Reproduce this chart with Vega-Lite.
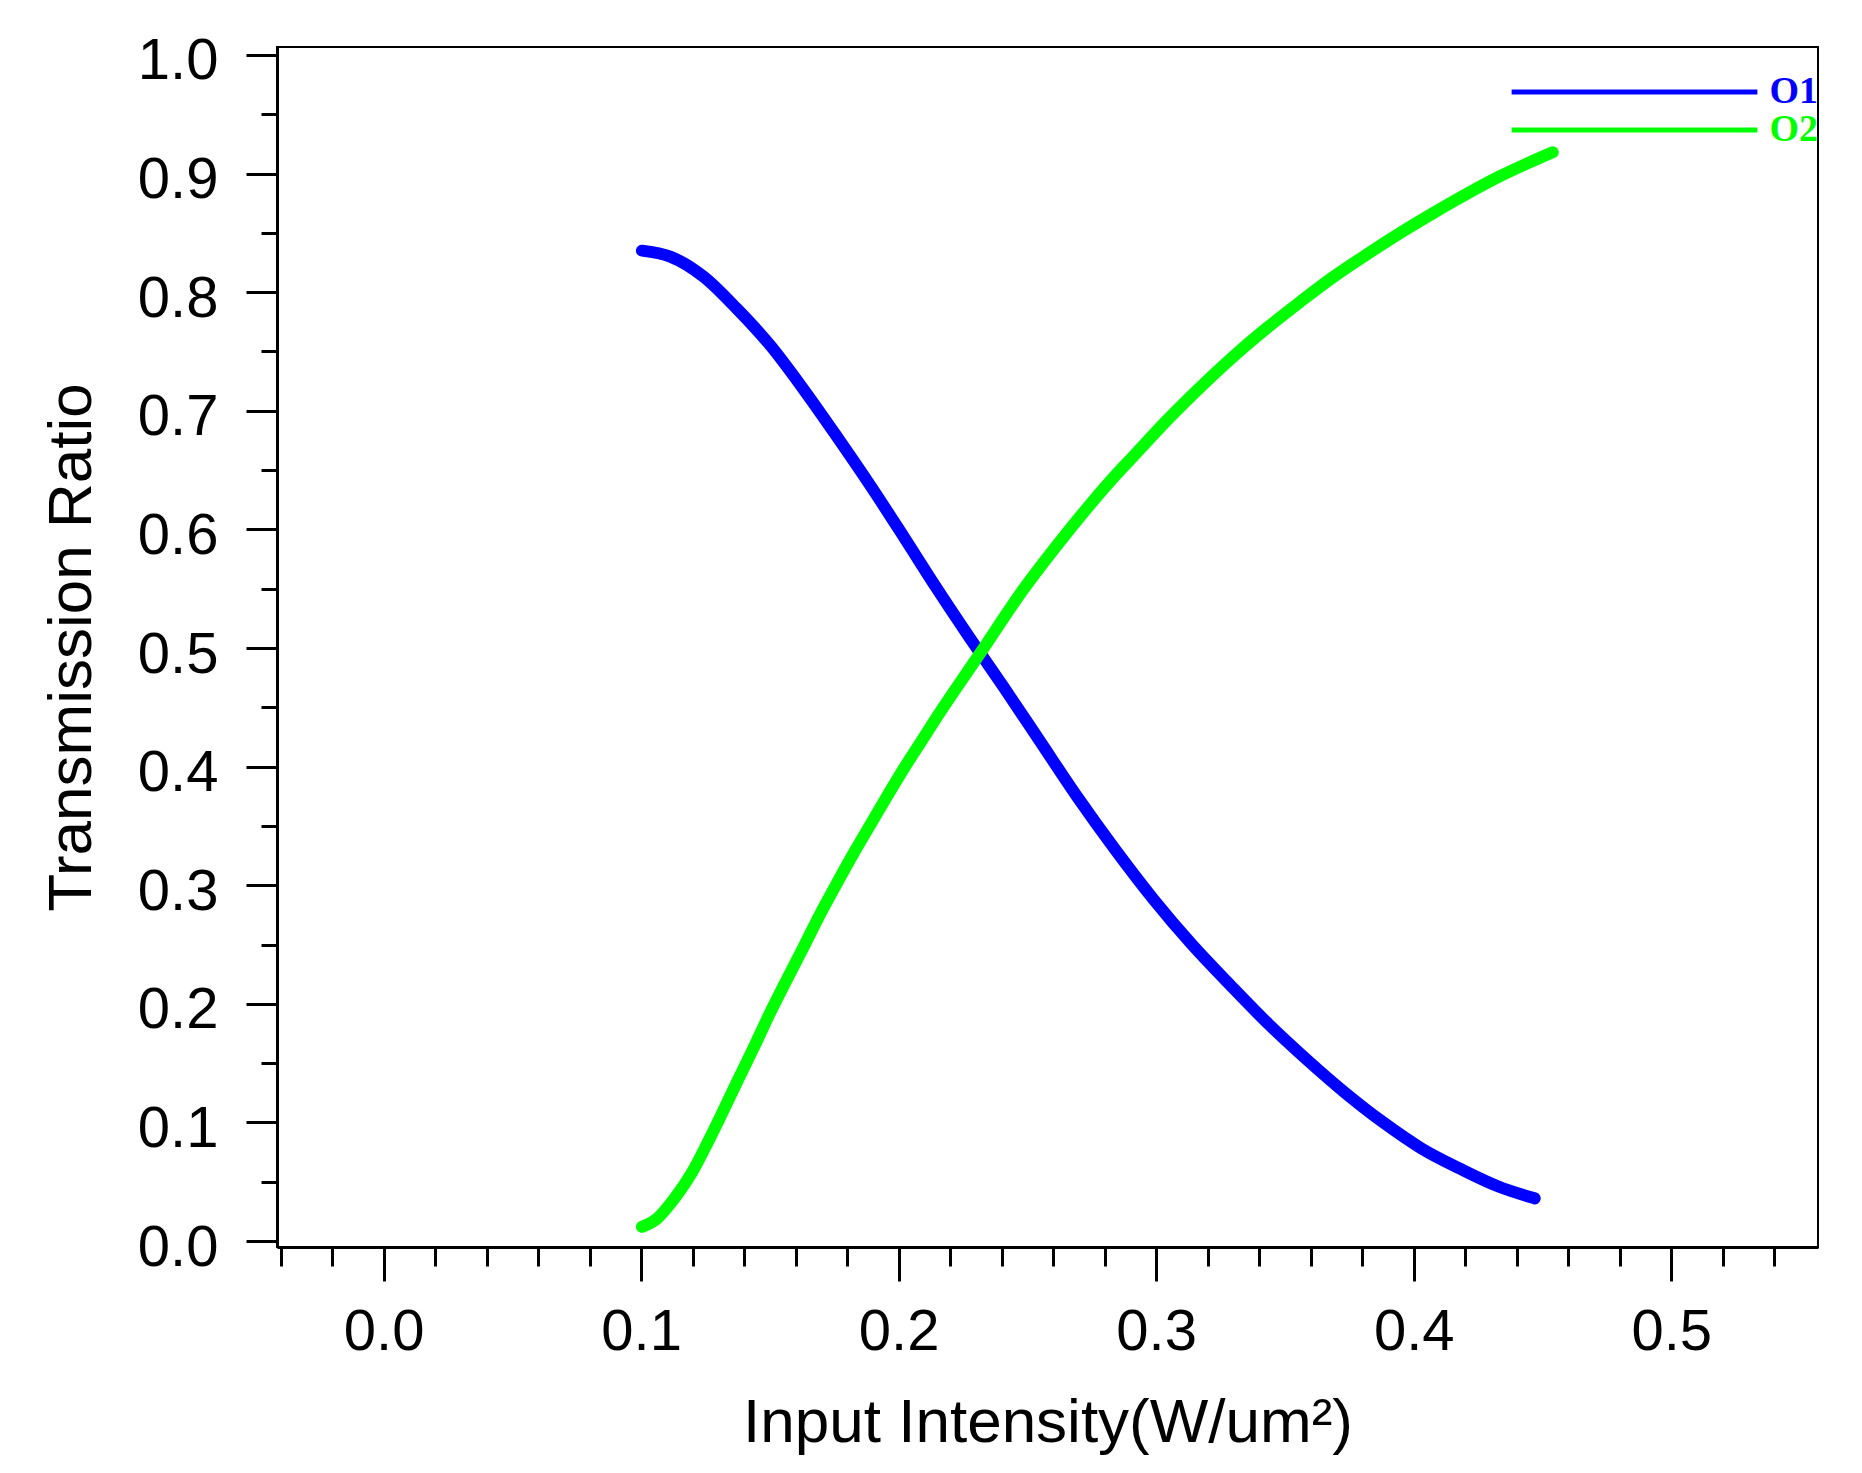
{
  "$schema": "https://vega.github.io/schema/vega-lite/v6.json",
  "autosize": "none",
  "width": 1541,
  "height": 1200,
  "padding": {"left": 277, "top": 47, "right": 44, "bottom": 226},
  "background": "white",
  "data": {
    "values": [
      {"series": "O1", "x": 0.1003, "y": 0.835},
      {"series": "O1", "x": 0.1113, "y": 0.830},
      {"series": "O1", "x": 0.1243, "y": 0.813},
      {"series": "O1", "x": 0.1372, "y": 0.786},
      {"series": "O1", "x": 0.1502, "y": 0.755},
      {"series": "O1", "x": 0.1631, "y": 0.718},
      {"series": "O1", "x": 0.1761, "y": 0.678},
      {"series": "O1", "x": 0.1890, "y": 0.637},
      {"series": "O1", "x": 0.2019, "y": 0.594},
      {"series": "O1", "x": 0.2149, "y": 0.550},
      {"series": "O1", "x": 0.2278, "y": 0.508},
      {"series": "O1", "x": 0.2408, "y": 0.467},
      {"series": "O1", "x": 0.2544, "y": 0.423},
      {"series": "O1", "x": 0.2692, "y": 0.375},
      {"series": "O1", "x": 0.2841, "y": 0.330},
      {"series": "O1", "x": 0.2990, "y": 0.288},
      {"series": "O1", "x": 0.3139, "y": 0.250},
      {"series": "O1", "x": 0.3287, "y": 0.216},
      {"series": "O1", "x": 0.3436, "y": 0.183},
      {"series": "O1", "x": 0.3585, "y": 0.153},
      {"series": "O1", "x": 0.3734, "y": 0.125},
      {"series": "O1", "x": 0.3882, "y": 0.100},
      {"series": "O1", "x": 0.4031, "y": 0.078},
      {"series": "O1", "x": 0.4180, "y": 0.061},
      {"series": "O1", "x": 0.4329, "y": 0.046},
      {"series": "O1", "x": 0.4470, "y": 0.036},
      {"series": "O2", "x": 0.1003, "y": 0.012},
      {"series": "O2", "x": 0.1062, "y": 0.019},
      {"series": "O2", "x": 0.1126, "y": 0.035},
      {"series": "O2", "x": 0.1198, "y": 0.058},
      {"series": "O2", "x": 0.1256, "y": 0.082},
      {"series": "O2", "x": 0.1308, "y": 0.105},
      {"series": "O2", "x": 0.1372, "y": 0.134},
      {"series": "O2", "x": 0.1437, "y": 0.163},
      {"series": "O2", "x": 0.1502, "y": 0.193},
      {"series": "O2", "x": 0.1567, "y": 0.221},
      {"series": "O2", "x": 0.1631, "y": 0.248},
      {"series": "O2", "x": 0.1696, "y": 0.276},
      {"series": "O2", "x": 0.1761, "y": 0.302},
      {"series": "O2", "x": 0.1825, "y": 0.327},
      {"series": "O2", "x": 0.1890, "y": 0.351},
      {"series": "O2", "x": 0.1955, "y": 0.375},
      {"series": "O2", "x": 0.2019, "y": 0.398},
      {"series": "O2", "x": 0.2084, "y": 0.420},
      {"series": "O2", "x": 0.2149, "y": 0.442},
      {"series": "O2", "x": 0.2324, "y": 0.498},
      {"series": "O2", "x": 0.2473, "y": 0.546},
      {"series": "O2", "x": 0.2602, "y": 0.583},
      {"series": "O2", "x": 0.2732, "y": 0.618},
      {"series": "O2", "x": 0.2848, "y": 0.647},
      {"series": "O2", "x": 0.2913, "y": 0.662},
      {"series": "O2", "x": 0.3042, "y": 0.692},
      {"series": "O2", "x": 0.3172, "y": 0.720},
      {"series": "O2", "x": 0.3301, "y": 0.746},
      {"series": "O2", "x": 0.3431, "y": 0.770},
      {"series": "O2", "x": 0.3560, "y": 0.792},
      {"series": "O2", "x": 0.3689, "y": 0.813},
      {"series": "O2", "x": 0.3819, "y": 0.832},
      {"series": "O2", "x": 0.3948, "y": 0.850},
      {"series": "O2", "x": 0.4078, "y": 0.867},
      {"series": "O2", "x": 0.4207, "y": 0.883},
      {"series": "O2", "x": 0.4337, "y": 0.898},
      {"series": "O2", "x": 0.4466, "y": 0.911},
      {"series": "O2", "x": 0.4540, "y": 0.918}
    ]
  },
  "layer": [
    {
      "mark": {"type": "line", "strokeWidth": 12, "strokeCap": "round", "strokeJoin": "round", "interpolate": "monotone"},
      "encoding": {
        "x": {
          "field": "x", "type": "quantitative",
          "scale": {"domain": [-0.0414, 0.557], "nice": false, "zero": false},
          "axis": {
            "orient": "bottom",
            "values": [0, 0.1, 0.2, 0.3, 0.4, 0.5],
            "format": ".1f",
            "tickSize": 34,
            "labelPadding": 22,
            "title": "Input Intensity(W/um²)",
            "titlePadding": 31
          }
        },
        "y": {
          "field": "y", "type": "quantitative",
          "scale": {"domain": [-0.005, 1.0067], "nice": false, "zero": false},
          "axis": {
            "orient": "left",
            "values": [0, 0.1, 0.2, 0.3, 0.4, 0.5, 0.6, 0.7, 0.8, 0.9, 1.0],
            "format": ".1f",
            "tickSize": 31,
            "labelPadding": 28,
            "labelOffset": 7,
            "title": "Transmission Ratio",
            "titlePadding": 34
          }
        },
        "color": {
          "field": "series", "type": "nominal",
          "scale": {"domain": ["O1", "O2"], "range": ["#0000ff", "#00ff00"]},
          "legend": {
            "title": null,
            "orient": "none",
            "legendX": 1234,
            "legendY": 26,
            "padding": 0,
            "symbolType": "M-20,0H20",
            "symbolSize": 151,
            "symbolStrokeWidth": 5,
            "symbolOffset": 104.5,
            "labelOffset": 116,
            "rowPadding": 0,
            "labelFont": "Liberation Serif",
            "labelFontWeight": "bold",
            "labelFontSize": 38,
            "labelLimit": 0,
            "encode": {
              "labels": {"update": {"fill": {"signal": "datum.value === 'O1' ? '#0000ff' : '#00ff00'"}}}
            }
          }
        }
      }
    },
    {
      "mark": {"type": "line", "opacity": 0},
      "encoding": {
        "x": {
          "field": "x", "type": "quantitative",
          "scale": {"domain": [-0.0414, 0.557], "nice": false, "zero": false},
          "axis": {
            "orient": "bottom",
            "values": [-0.04, -0.02, 0.02, 0.04, 0.06, 0.08, 0.12, 0.14, 0.16, 0.18, 0.22, 0.24, 0.26, 0.28, 0.32, 0.34, 0.36, 0.38, 0.42, 0.44, 0.46, 0.48, 0.52, 0.54],
            "tickSize": 19,
            "labels": false,
            "domain": false,
            "title": null
          }
        },
        "y": {
          "field": "y", "type": "quantitative",
          "scale": {"domain": [-0.005, 1.0067], "nice": false, "zero": false},
          "axis": {
            "orient": "left",
            "values": [0.05, 0.15, 0.25, 0.35, 0.45, 0.55, 0.65, 0.75, 0.85, 0.95],
            "tickSize": 16,
            "labels": false,
            "domain": false,
            "title": null
          }
        },
        "detail": {"field": "series", "type": "nominal"}
      }
    }
  ],
  "resolve": {"axis": {"x": "independent", "y": "independent"}},
  "config": {
    "view": {"stroke": "#000000", "strokeWidth": 2},
    "axis": {
      "grid": false,
      "domainColor": "#000000",
      "domainWidth": 3,
      "tickColor": "#000000",
      "tickWidth": 3,
      "labelFont": "Liberation Sans",
      "labelFontSize": 58,
      "labelColor": "#000000",
      "labelFlush": false,
      "labelOverlap": false,
      "titleFont": "Liberation Sans",
      "titleFontSize": 62,
      "titleFontWeight": "normal",
      "titleColor": "#000000"
    }
  }
}
